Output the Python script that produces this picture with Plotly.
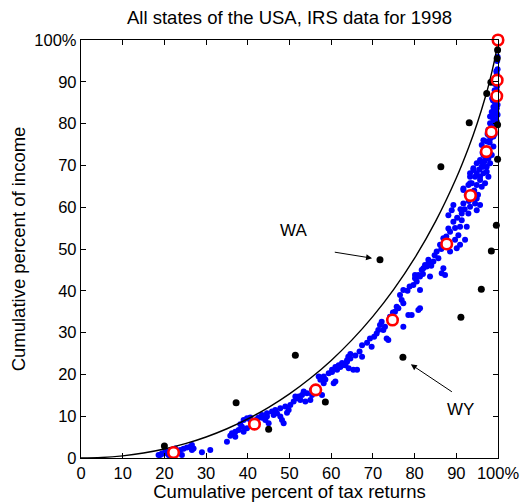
import plotly.graph_objects as go

# Theoretical curve
curve_x = [0, 5, 10, 15, 20, 25, 30, 35, 40, 45, 50, 55, 60, 65, 70, 75, 80, 85, 90, 93, 95, 97, 98, 99, 99.5, 99.9, 100]
curve_y = [0, 0.13, 0.52, 1.19, 2.15, 3.42, 5.03, 7.00, 9.35, 12.12, 15.34, 19.07, 23.35, 28.26, 33.88, 40.34, 47.81, 56.54, 66.97, 74.39, 80.02, 86.48, 90.18, 94.39, 96.85, 99.21, 100]

# Blue points (all states, income brackets)
blue_x = [18.6, 19.0, 19.4, 19.8, 20.2, 20.6, 21.0, 21.4, 22.6, 23.0, 23.8, 24.2, 24.6, 25.4, 26.2, 26.6, 26.6, 27.0, 29.0, 31.0,
          35.0, 35.8, 36.2, 37.0, 37.0, 37.8, 38.2, 38.6, 39.0, 39.0, 39.8, 39.8, 40.6, 40.6, 42.2, 42.6, 43.4, 43.4, 44.2, 44.6,
          44.6, 45.0, 45.8, 46.2, 46.6, 47.0, 47.8, 47.8, 48.2, 48.6, 49.0, 49.4, 49.8, 50.2, 51.0, 51.4, 51.8, 52.2, 52.6, 53.0,
          53.4, 53.8, 54.2, 55.0, 55.4, 55.4, 56.6, 57.0, 57.4, 57.8, 58.2, 58.2, 58.6, 59.4, 60.2, 60.2, 60.6, 61.0, 61.0, 61.4,
          61.8, 62.2, 62.6, 62.6, 63.4, 63.8, 63.8, 64.1, 64.2, 64.6, 64.6, 65.3, 66.2, 67.4, 67.4, 69.3, 69.7, 70.9, 71.3, 71.7,
          72.1, 72.5, 72.9, 73.3, 73.7, 74.1, 75.3, 75.7, 76.1, 76.5, 76.9, 77.3, 77.3, 77.3, 78.5, 79.3, 79.7, 80.1, 80.1, 80.5,
          80.9, 80.9, 81.3, 81.3, 81.3, 81.7, 82.1, 82.5, 82.9, 83.3, 83.3, 83.7, 84.5, 85.3, 85.7, 86.1, 86.5, 86.9, 86.9, 87.3,
          88.1, 88.1, 88.5, 88.5, 88.9, 89.3, 89.3, 89.7, 90.1, 90.5, 90.9, 90.9, 91.3, 91.3, 91.7, 91.7, 91.7, 92.1, 92.5, 92.5,
          92.9, 92.9, 93.3, 93.3, 93.3, 93.3, 93.7, 94.1, 94.1, 94.5, 94.5, 94.9, 94.9, 94.9, 94.9, 94.9, 95.7, 95.7, 95.7, 95.7,
          96.1, 96.1, 96.1, 96.5, 96.5, 96.5, 96.9, 97.3, 97.3, 97.3, 97.7, 97.7, 97.7, 97.7, 98.1, 98.1, 98.1, 98.5, 98.5, 98.5,
          98.9, 98.9, 98.9, 98.9, 99.3, 99.3, 99.3, 99.7, 99.7, 99.7, 99.9, 99.9,
          96.5, 97.5, 98.0, 96.8, 98.8, 99.2, 99.5, 98.6, 99.2, 99.8, 99.9, 99.8, 99.7, 99.8, 99.9, 99.6, 99.4, 99.1, 98.8,
          92.0, 93.0, 93.8, 94.3, 95.2, 95.5, 96.0, 96.3, 97.0, 97.5, 97.9, 98.2, 98.6, 99.0, 99.4, 99.6, 99.0, 98.7, 99.5,
          99.6, 99.9, 99.3, 90.2, 89.7, 91.0, 87.6, 86.4, 84.8, 84.0, 82.0, 78.3, 78.8, 74.8, 70.3, 68.6, 66.8, 65.8]
blue_y = [0.7, 0.7, 1.1, 1.1, 1.4, 1.5, 0.7, 0.5, 2.3, 1.5, 1.9, 0.7, 2.2, 2.5, 2.7, 3.1, 1.9, 2.3, 1.4, 1.9,
          3.9, 5.3, 5.9, 6.3, 5.1, 6.7, 8.1, 7.5, 6.3, 9.1, 7.1, 9.5, 9.1, 9.7, 9.3, 9.7, 9.6, 10.3, 9.1, 9.9,
          10.7, 8.3, 11.1, 10.3, 11.5, 10.7, 11.9, 9.9, 9.1, 8.3, 12.3, 10.8, 11.5, 12.7, 13.5, 14.7, 14.3, 14.7, 13.9, 15.1,
          15.9, 13.5, 15.5, 13.9, 16.3, 15.1, 15.9, 19.5, 18.7, 15.1, 17.9, 19.5, 18.8, 20.3, 20.6, 21.1, 17.9, 18.3, 21.8, 21.1,
          22.2, 21.8, 22.7, 22.2, 22.2, 23.0, 23.4, 24.2, 21.5, 23.8, 24.9, 21.1, 21.1, 24.2, 27.0, 28.6, 26.6, 29.8, 30.6, 31.8,
          32.6, 30.6, 31.4, 28.6, 28.2, 33.8, 35.0, 36.2, 35.8, 39.0, 37.8, 37.0, 40.2, 31.4, 34.2, 34.2, 41.4, 43.8, 43.0, 42.2,
          43.8, 35.4, 43.4, 40.2, 35.8, 45.0, 45.4, 46.2, 45.8, 46.6, 47.4, 43.4, 47.0, 49.4, 47.8, 51.0, 44.2, 45.4, 52.6, 43.8,
          54.9, 58.1, 54.1, 49.4, 59.3, 56.5, 60.5, 52.2, 50.2, 53.3, 51.0, 55.3, 56.9, 58.5, 60.9, 64.1, 64.5, 52.2, 55.3, 62.9,
          58.5, 65.3, 60.1, 68.1, 67.3, 65.7, 65.7, 69.3, 68.9, 60.9, 67.3, 68.1, 59.3, 62.1, 70.5, 65.3, 67.3, 60.5, 71.3, 66.5,
          64.9, 74.9, 69.7, 69.7, 72.5, 68.1, 65.7, 68.5, 69.7, 75.7, 67.3, 71.7, 77.3, 78.5, 70.5, 81.7, 80.1, 72.5, 82.8, 79.3,
          74.5, 76.9, 80.9, 84.0, 84.9, 82.5, 79.7, 83.7, 80.5, 92.0, 91.2, 82.1,
          76.0, 77.5, 75.5, 71.0, 78.5, 77.5, 81.0, 86.0, 88.0, 95.0, 93.0, 89.0, 88.0, 86.0, 84.5, 85.5, 87.0, 86.5, 85.5,
          59.5, 61.5, 63.5, 64.0, 63.0, 69.0, 70.8, 73.0, 72.0, 74.0, 73.0, 76.5, 77.0, 79.0, 80.0, 82.8, 83.0, 81.5, 90.0,
          92.5, 96.0, 89.5, 57.5, 55.0, 59.5, 53.0, 50.0, 48.5, 46.0, 44.0, 40.0, 41.0, 34.8, 29.0, 27.6, 25.5, 24.5]

# Black points
black_x = [20.0, 37.2, 45.0, 51.4, 58.6, 71.7, 77.2, 86.3, 91.1, 93.1, 96.0, 97.3, 98.3, 98.4, 99.6, 99.9, 99.9, 99.8, 99.9]
black_y = [2.9, 13.2, 6.9, 24.6, 13.4, 47.4, 24.1, 69.7, 33.7, 80.2, 40.4, 87.2, 89.9, 49.5, 55.7, 71.5, 79.7, 95.6, 97.6]

# Red circles (US total)
red_x = [22.2, 41.6, 56.3, 74.7, 87.7, 93.4, 97.2, 98.4, 99.7, 99.8, 100]
red_y = [1.3, 8.1, 16.3, 33.0, 51.2, 62.8, 73.3, 78.0, 86.6, 90.4, 100]

tick_vals = [0, 10, 20, 30, 40, 50, 60, 70, 80, 90, 100]
tick_text = ["0", "10", "20", "30", "40", "50", "60", "70", "80", "90", "100%"]

FONT = "Liberation Sans, Arial, sans-serif"

fig = go.Figure()
fig.add_trace(go.Scatter(x=blue_x, y=blue_y, mode="markers",
                         marker=dict(color="#0000ff", size=6, line=dict(width=0)),
                         cliponaxis=False, hoverinfo="skip"))
fig.add_trace(go.Scatter(x=curve_x, y=curve_y, mode="lines", line=dict(color="black", width=1.4, shape="spline"),
                         hoverinfo="skip"))
fig.add_trace(go.Scatter(x=black_x, y=black_y, mode="markers",
                         marker=dict(color="black", size=7, line=dict(width=0)),
                         cliponaxis=False, hoverinfo="skip"))
fig.add_trace(go.Scatter(x=red_x, y=red_y, mode="markers",
                         marker=dict(color="white", size=10.5, line=dict(color="#ff0000", width=2.6)),
                         cliponaxis=False, hoverinfo="skip"))

fig.add_annotation(x=69.8, y=47.8, ax=60.5, ay=49.3, xref="x", yref="y", axref="x", ayref="y",
                   showarrow=True, arrowhead=2, arrowsize=1.2, arrowwidth=1, arrowcolor="black", text="")
fig.add_annotation(x=50.9, y=54.5, text="WA", showarrow=False, font=dict(family=FONT, size=17, color="black"))
fig.add_annotation(x=79.1, y=22.4, ax=89.3, ay=15.6, xref="x", yref="y", axref="x", ayref="y",
                   showarrow=True, arrowhead=2, arrowsize=1.2, arrowwidth=1, arrowcolor="black", text="")
fig.add_annotation(x=90.9, y=11.5, text="WY", showarrow=False, font=dict(family=FONT, size=17, color="black"))

axis_common = dict(range=[0, 100], tickmode="array", tickvals=tick_vals, ticktext=tick_text,
                   ticks="inside", ticklen=5, tickcolor="black", tickwidth=1,
                   showline=True, linecolor="black", linewidth=1.2, mirror="ticks",
                   showgrid=False, zeroline=False, automargin=False,
                   tickfont=dict(family=FONT, size=16.5, color="black"))

fig.update_xaxes(**axis_common, title=dict(text="Cumulative percent of tax returns",
                                           font=dict(family=FONT, size=18.5, color="black"), standoff=0))
fig.update_yaxes(**axis_common, title=dict(text="Cumulative percent of income",
                                           font=dict(family=FONT, size=18.5, color="black"), standoff=3))

fig.update_layout(width=525, height=502, showlegend=False,
                  paper_bgcolor="white", plot_bgcolor="white",
                  margin=dict(l=80.5, r=27, t=40, b=44),
                  title=dict(text="All states of the USA, IRS data for 1998", xref="paper", x=0.5, xanchor="center",
                             yref="container", y=1 - 18 / 502, yanchor="middle",
                             font=dict(family=FONT, size=18.5, color="black")))

fig.write_html("out.html", config={"displayModeBar": False, "staticPlot": True},
               post_script="document.body.style.margin='0';document.body.style.overflow='hidden';")
